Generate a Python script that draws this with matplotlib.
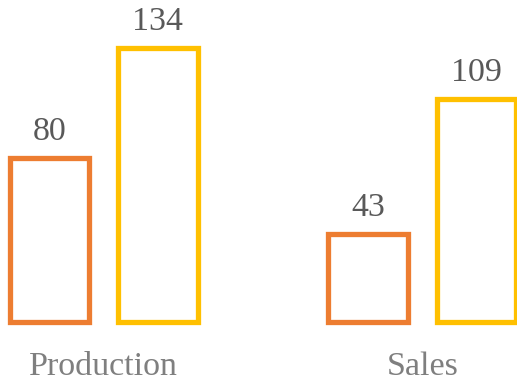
import numpy as np
import matplotlib
matplotlib.use("Agg")
import matplotlib.pyplot as plt

categories = ["Production", "Sales"]
series_a = [80, 43]
series_b = [134, 109]

plt.rcParams['font.family'] = ['Liberation Serif', 'DejaVu Serif']

fig = plt.figure(figsize=(5.17, 3.81), dpi=100)
# axes spans full width, baseline ~59.5 px from bottom
ax = fig.add_axes([0, 59.5 / 381, 1, 1 - 59.5 / 381])

x = np.arange(len(categories))
w = 0.25
off = 0.17

ax.bar(x - off, series_a, w, fill=False, edgecolor="#ED7D31", linewidth=3.8, clip_on=False)
ax.bar(x + off, series_b, w, fill=False, edgecolor="#FFC000", linewidth=3.8, clip_on=False)

for xi, v in zip(x - off, series_a):
    ax.annotate(str(v), (xi, v), xytext=(0, 13), textcoords="offset points",
                ha="center", va="baseline", fontsize=24.5, color="#595959")
for xi, v in zip(x + off, series_b):
    ax.annotate(str(v), (xi, v), xytext=(0, 13), textcoords="offset points",
                ha="center", va="baseline", fontsize=24.5, color="#595959")

for xi, c in zip(x, categories):
    ax.annotate(c, (xi, 0), xycoords=("data", "axes fraction"),
                xytext=(0, -38.5), textcoords="offset points",
                ha="center", va="baseline", fontsize=24.5, color="#7F7F7F",
                annotation_clip=False)

# px per category ~318.5, first group centred at ~103.75 px
ax.set_xlim(-103.75 / 318.5, (517 - 103.75) / 318.5)
ax.set_ylim(0, (381 - 59.5) / 2.04)
ax.axis("off")

fig.savefig("out.png", dpi=100)
